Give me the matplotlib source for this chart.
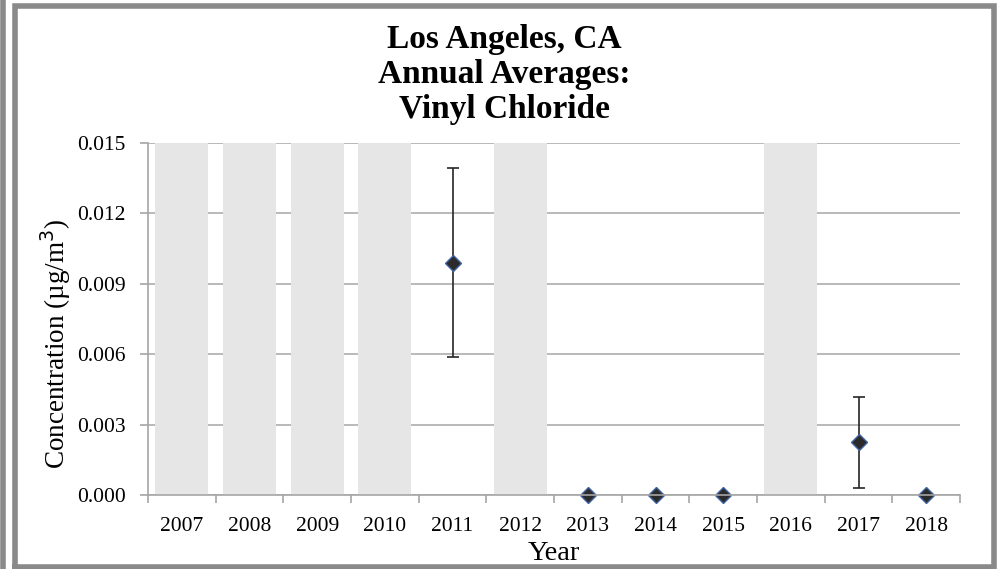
import numpy as np
import matplotlib.pyplot as plt
from matplotlib.lines import Line2D
from matplotlib.ticker import FormatStrFormatter

years = ["2007", "2008", "2009", "2010", "2011", "2012",
         "2013", "2014", "2015", "2016", "2017", "2018"]
means = [np.nan, np.nan, np.nan, np.nan, 0.00990, np.nan,
         0.0, 0.0, 0.0, np.nan, 0.00228, 0.0]
ci_low = [np.nan, np.nan, np.nan, np.nan, 0.00588, np.nan,
          0.0, 0.0, 0.0, np.nan, 0.00030, 0.0]
ci_high = [np.nan, np.nan, np.nan, np.nan, 0.01392, np.nan,
           0.0, 0.0, 0.0, np.nan, 0.00418, 0.0]
no_data = [1, 1, 1, 1, 0, 1, 0, 0, 0, 1, 0, 0]
yticks = [0.000, 0.003, 0.006, 0.009, 0.012, 0.015]

plt.rcParams["font.family"] = ["Liberation Serif", "DejaVu Serif"]

fig = plt.figure(figsize=(10.04, 5.69), dpi=100)
ax = fig.add_axes([0.1474, 0.130, 0.8088, 0.6187])

x = np.arange(len(years))
ymax = yticks[-1]
means = np.array(means)
lo = means - np.array(ci_low)
hi = np.array(ci_high) - means

# grey columns for years without data
ax.bar(x[np.array(no_data) == 1], ymax, width=0.78, color="#e6e6e6", zorder=2)

has_err = ~np.isnan(lo) & (lo + hi > 0)
ax.errorbar(x[has_err], means[has_err], yerr=[lo[has_err], hi[has_err]],
            fmt="none", ecolor="#262626", elinewidth=1.2, capsize=4.5,
            capthick=1.2, zorder=3)
ok = ~np.isnan(means)
ax.plot(x[ok], means[ok], "D", markersize=8, markerfacecolor="#2b2b2b",
        markeredgecolor="#3f63a0", markeredgewidth=1.0, zorder=4,
        clip_on=False)

ax.set_xlim(-0.5, len(years) - 0.5)
ax.set_ylim(0, ymax)
ax.set_yticks(yticks)
ax.yaxis.set_major_formatter(FormatStrFormatter("%.3f"))
ax.set_xticks(x)
ax.set_xticklabels(years)
ax.set_xticks(np.arange(-0.5, len(years)), minor=True)
ax.tick_params(axis="x", which="major", length=0, pad=16, labelsize=15.5)
ax.tick_params(axis="x", which="minor", length=6, width=1.2, color="#a6a6a6")
ax.tick_params(axis="y", length=6, width=1.2, color="#a6a6a6", pad=10,
               labelsize=15.5)

ax.grid(axis="y", color="#b3b3b3", linewidth=1.3, zorder=1)
ax.set_axisbelow(True)
for s in ["top", "right"]:
    ax.spines[s].set_visible(False)
for s in ["left", "bottom"]:
    ax.spines[s].set_color("#a6a6a6")
    ax.spines[s].set_linewidth(1.2)
    ax.spines[s].set_zorder(5)

ax.set_xlabel("Year", fontsize=20.5, labelpad=3.5)
ax.set_ylabel("Concentration (µg/m$^3$)", fontsize=19.5, labelpad=3)
ax.yaxis.label.set_y(0.43)

fig.text(0.502, 0.958, "Los Angeles, CA\nAnnual Averages:\nVinyl Chloride",
         ha="center", va="top", fontsize=24, fontweight="bold",
         linespacing=1.17)

# frame around the chart
border = "#8a8a8a"
lw = 4
fig.add_artist(Line2D([0.003, 0.003], [0, 1], transform=fig.transFigure,
                      color=border, linewidth=lw))
fig.add_artist(Line2D([0.0145, 0.0145, 0.9905, 0.9905, 0.0145],
                      [0.004, 0.9895, 0.9895, 0.004, 0.004],
                      transform=fig.transFigure, color=border, linewidth=lw,
                      solid_joinstyle="miter"))

fig.savefig("out.png", dpi=100)
